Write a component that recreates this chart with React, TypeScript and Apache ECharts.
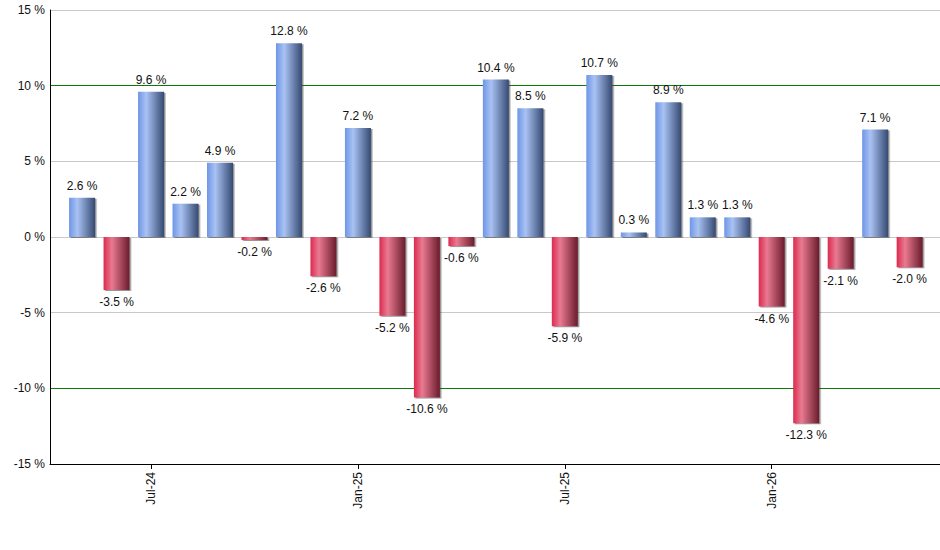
import React, { useEffect, useRef } from "react";
import * as echarts from "echarts";

const months = [
  "May-24", "Jun-24", "Jul-24", "Aug-24", "Sep-24", "Oct-24", "Nov-24", "Dec-24",
  "Jan-25", "Feb-25", "Mar-25", "Apr-25", "May-25", "Jun-25", "Jul-25", "Aug-25",
  "Sep-25", "Oct-25", "Nov-25", "Dec-25", "Jan-26", "Feb-26", "Mar-26", "Apr-26", "May-26",
];
const returns = [
  2.6, -3.5, 9.6, 2.2, 4.9, -0.2, 12.8, -2.6, 7.2, -5.2, -10.6, -0.6, 10.4,
  8.5, -5.9, 10.7, 0.3, 8.9, 1.3, 1.3, -4.6, -12.3, -2.1, 7.1, -2.0,
];
const labelledMonths = ["Jul-24", "Jan-25", "Jul-25", "Jan-26"];
const yTicks = [-15, -10, -5, 0, 5, 10, 15];
const thresholdLevels = [-10, 10];

const FONT = '"Liberation Sans", Arial, sans-serif';

const blueGrad = () =>
  new echarts.graphic.LinearGradient(0, 0, 1, 0, [
    { offset: 0, color: "#6e96e6" },
    { offset: 0.32, color: "#a9c2f3" },
    { offset: 1, color: "#354a72" },
  ]);
const redGrad = () =>
  new echarts.graphic.LinearGradient(0, 0, 1, 0, [
    { offset: 0, color: "#dc2a4e" },
    { offset: 0.32, color: "#e97a91" },
    { offset: 1, color: "#6a1b2c" },
  ]);

export default function App() {
  const ref = useRef<HTMLDivElement>(null);
  useEffect(() => {
    if (!ref.current) return;
    const chart = echarts.init(ref.current, undefined, { renderer: "svg" });
    const tickIdx = labelledMonths.map((m) => months.indexOf(m));
    const splitColors = yTicks.map((t) =>
      thresholdLevels.includes(t) ? "#0b7a0b" : "#c8c8c8"
    );
    chart.setOption({
      animation: false,
      backgroundColor: "#ffffff",
      grid: { left: 50, right: 0, top: 10, bottom: 86, containLabel: false },
      xAxis: {
        type: "value",
        min: -0.93,
        max: 24.88,
        splitLine: { show: false },
        axisLine: { show: true, onZero: false, lineStyle: { color: "#000", width: 1 } },
        axisTick: {
          show: true,
          length: 5,
          customValues: tickIdx,
          lineStyle: { color: "#000", width: 1 },
        },
        axisLabel: {
          customValues: tickIdx,
          rotate: 90,
          margin: 8,
          fontFamily: FONT,
          fontSize: 12,
          color: "#111",
          formatter: (v: number) => months[Math.round(v)] ?? "",
        },
      },
      yAxis: {
        type: "value",
        min: -15,
        max: 15,
        interval: 5,
        axisLine: { show: true, onZero: false, lineStyle: { color: "#000", width: 1 } },
        axisTick: { show: false },
        axisLabel: {
          margin: 5,
          fontFamily: FONT,
          fontSize: 12,
          color: "#111",
          formatter: (v: number) => `${v} %`,
        },
        splitLine: {
          show: true,
          lineStyle: { color: splitColors, width: 1 },
        },
      },
      series: [
        {
          type: "bar",
          barWidth: 26,
          data: returns.map((v, i) => ({
            value: [i, v],
            itemStyle: {
              color: v >= 0 ? blueGrad() : redGrad(),
              shadowColor: "rgba(60,60,60,0.55)",
              shadowOffsetX: 1.5,
              shadowOffsetY: 1,
              shadowBlur: 0,
            },
            label: { position: v >= 0 ? "top" : "bottom" },
          })),
          label: {
            show: true,
            distance: 6,
            fontFamily: FONT,
            fontSize: 12,
            color: "#111",
            formatter: (p: any) => `${p.value[1].toFixed(1)} %`,
          },
        },
      ],
    });
    return () => chart.dispose();
  }, []);
  return (
    <div
      ref={ref}
      style={{ position: "fixed", left: 0, top: 0, width: 940, height: 550, background: "#fff" }}
    />
  );
}
